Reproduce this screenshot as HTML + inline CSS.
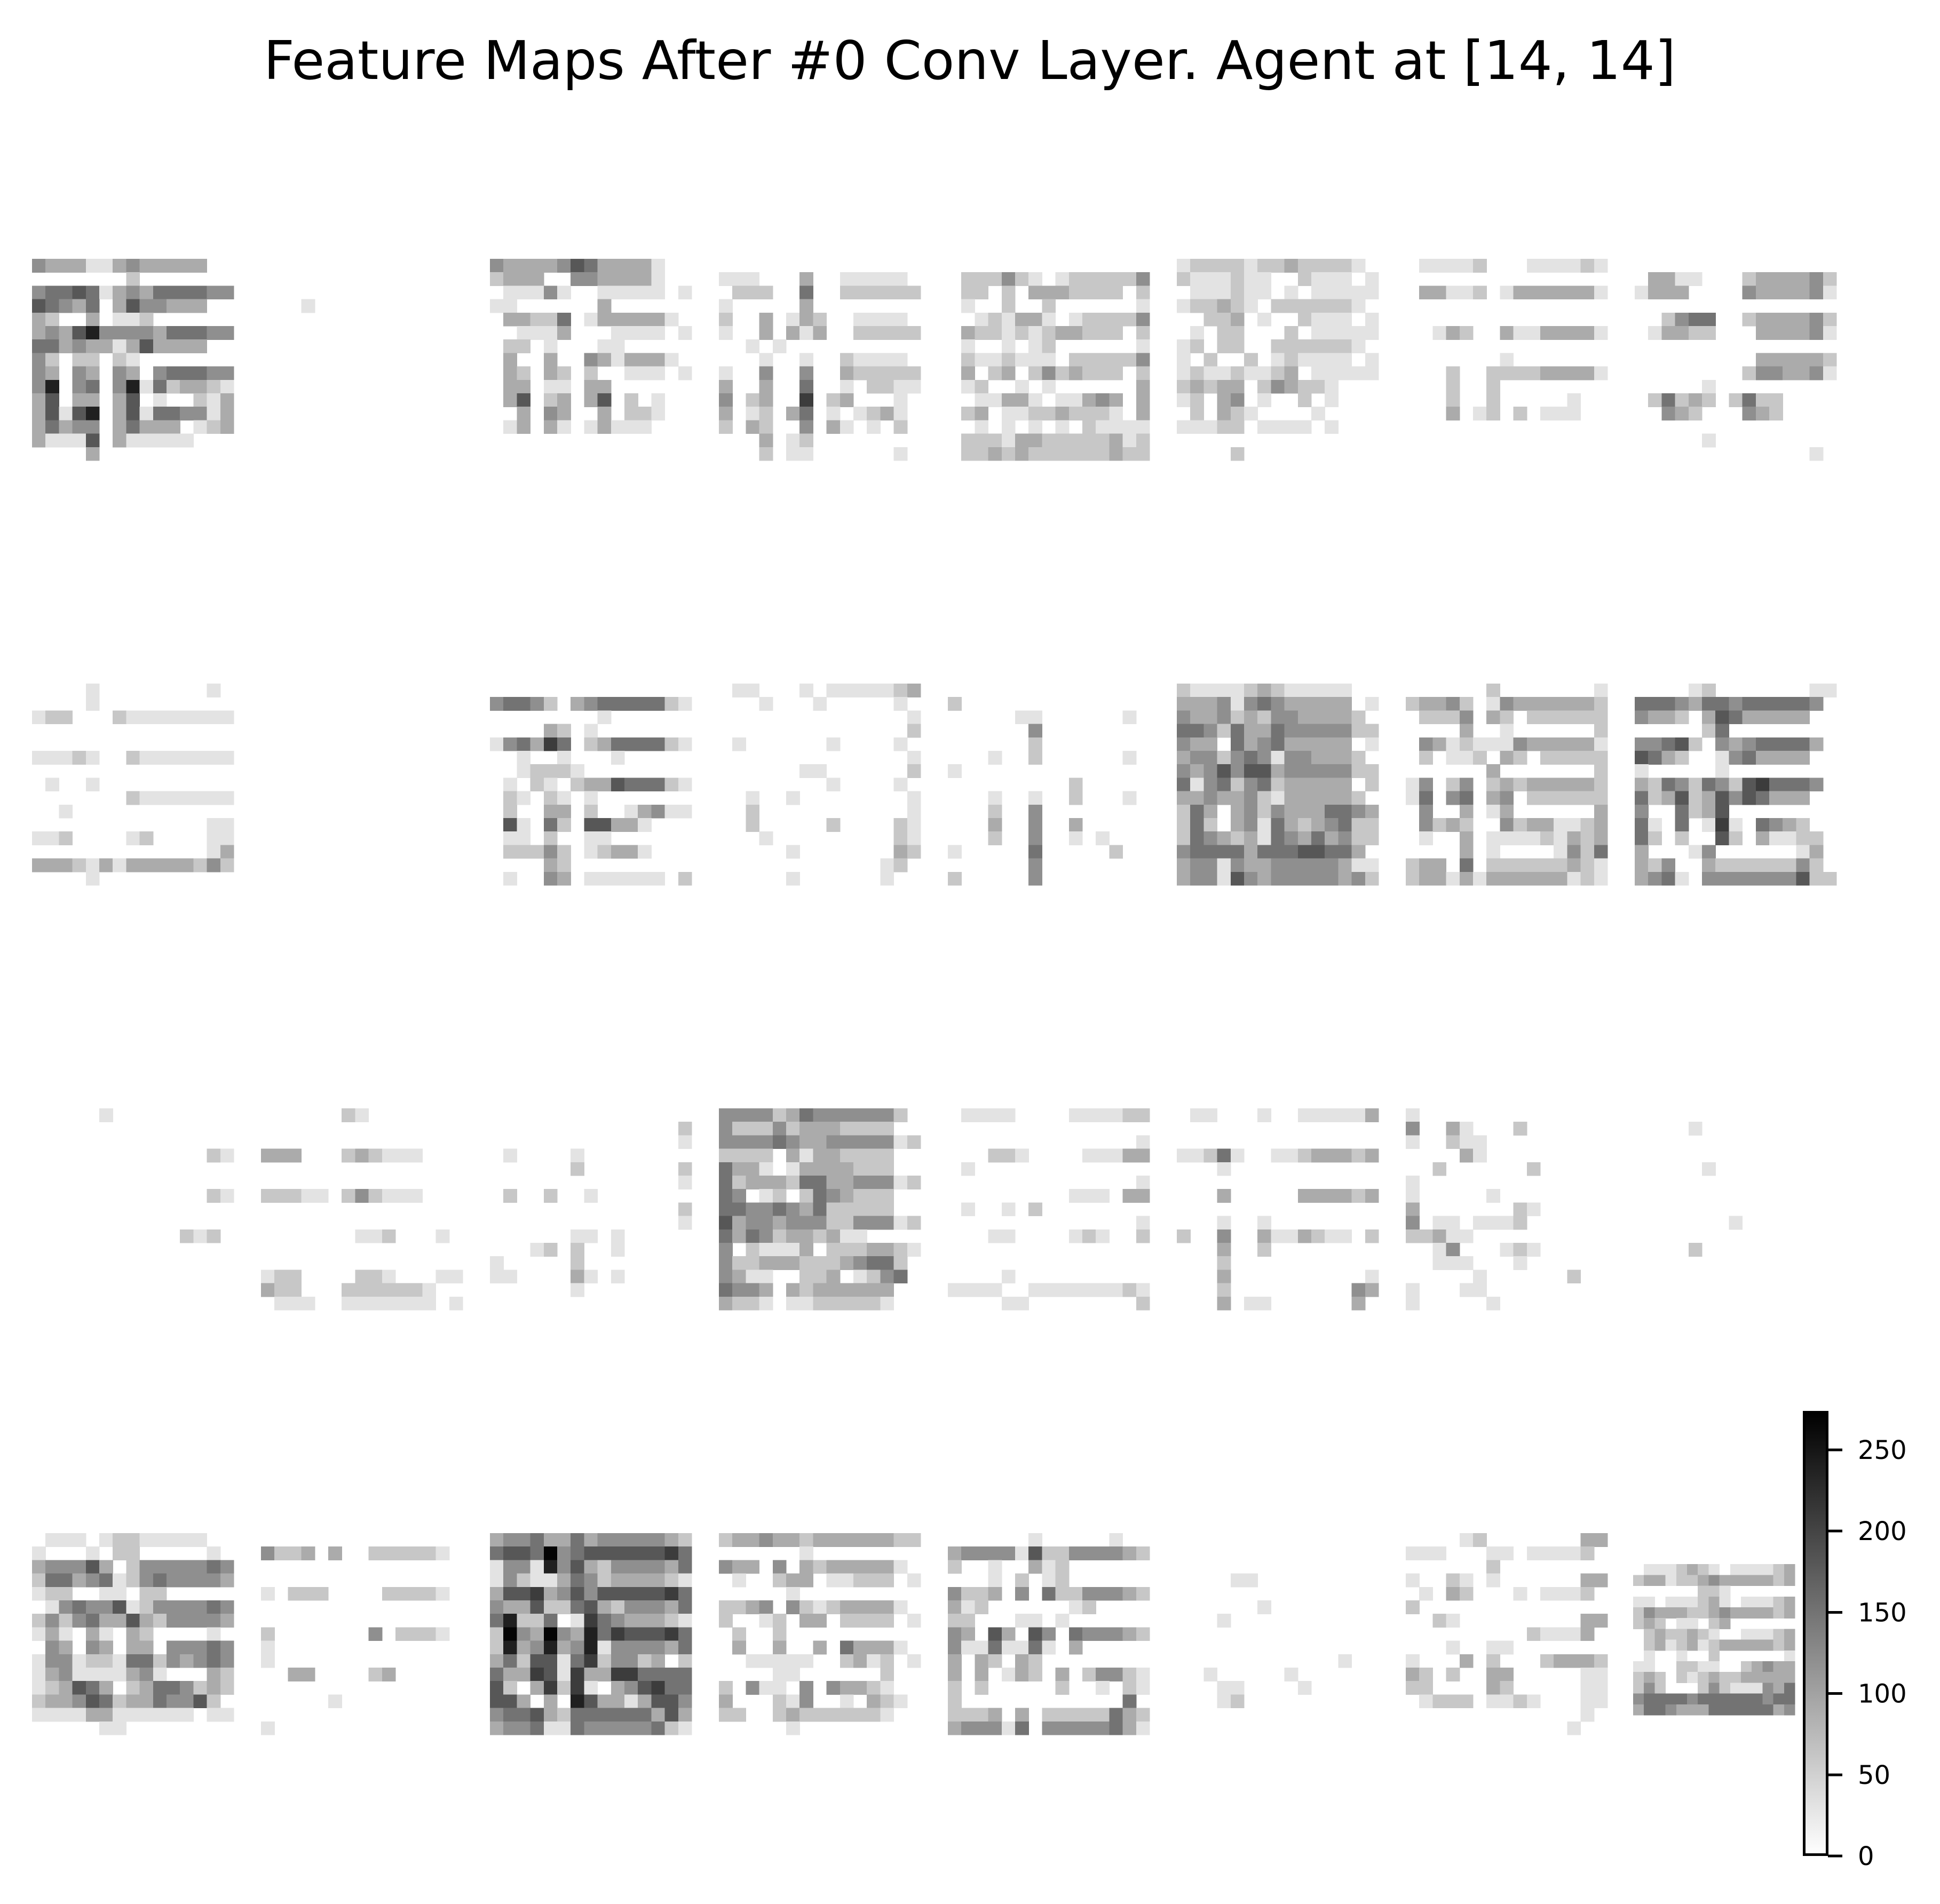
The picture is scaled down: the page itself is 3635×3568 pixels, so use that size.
<!DOCTYPE html>
<html>
<head>
<meta charset="utf-8">
<style>
  html, body { margin: 0; padding: 0; background: #ffffff; }
  svg { display: block; }
  text { font-family: "DejaVu Sans", "Liberation Sans", sans-serif; fill: #000; }
</style>
</head>
<body>
<svg id="chart" xmlns="http://www.w3.org/2000/svg" width="3635" height="3568" viewBox="0 0 3635 3568" shape-rendering="crispEdges">
  <rect x="0" y="0" width="3635" height="3568" fill="#ffffff"/>
  <text x="1817" y="148" font-size="100" text-anchor="middle" textLength="2646" lengthAdjust="spacingAndGlyphs" shape-rendering="auto">Feature Maps After #0 Conv Layer. Agent at [14, 14]</text>
  <g id="maps"></g>
  <defs>
    <linearGradient id="cbgrad" x1="0" y1="1" x2="0" y2="0">
      <stop offset="0" stop-color="#ffffff"/>
      <stop offset="1" stop-color="#000000"/>
    </linearGradient>
  </defs>
  <g id="colorbar">
    <rect x="3380.5" y="2646.5" width="43" height="829" fill="url(#cbgrad)" stroke="#000" stroke-width="5"/>
  </g>
</svg>
<script>
// Feature map values on a 0-9 intensity scale (value = digit * 30, colour scale 0..274)
const cbTicks = [0, 50, 100, 150, 200, 250];
const cbMax = 274;
const fm = [
["433311343333300","000000020000000","455651343555544","654350364433300","320030112000000","343684444355544","553433136333300","420220210000000","430430430455544","480450481523321","360330360100213","361680361554413","353440353330123","311160311111000","000030000000000"],
["000000000000000","000000000000000","000000000000000","000100000000000","000000000000000","000000000000000","000000000000000","000000000000000","000000000000000","000000000000000","000000000000000","000000000000000","000000000000000","000000000000000","000000000000000"],
["433334653333100","233300443333100","011141001111101","110000003000000","033225013333310","001113000111101","022010001100000","030030043133310","032032020011101","033011033000000","036023036020100","003043003022100","013031013111000","000000000000000","000000000000000"],
["000000000000000","111000300111110","022200500222222","100000300000000","200301320011110","100303130022222","001010000000000","000100100211110","100400400322222","300300500102211","402300702300010","301203501012310","203200403101020","000301200000000","000201100000010"],
["000000000000000","022242101222224","022020333222202","010020020000001","001213310122224","032212123322202","010010120000001","021121110222224","030230242322202","012001010000003","001133101134303","023011223222103","001010101021111","022213322222312","022323222222322"],
["122221223222210","211121100211101","011121101011111","122321022222210","002230100211101","010220002011111","120220022222210","102002012111101","121121123011111","232330243221000","120340100201000","020321000010000","111220111101000","000000000000000","000020000000000"],
["011112000111121","000000000000000","033112013333331","000000000000000","000000000000000","001320031133331","000000000000000","000000010000000","000200222233331","000200200000000","000200200000100","000301202011100","000000000000000","000000000000000","000000000000000"],
["000000000000000","033110002333342","133300004333341","000000000000000","002455002333342","013322000333341","000000000000000","000000000333332","000000002443341","000001000000000","025232025220000","004320004320000","000000000000000","000001000000000","000000000000010"],
["000010000000010","000010000000000","122000211111111","000000000000000","000000000000000","111210021111111","000000000000000","010010000000000","000000021111111","001000000000000","000000000000011","112000012000011","000000000000013","333213133333242","000010000000000"],
["000000000000000","000000000000000","000000000000000","000000000000000","000000000000000","000000000000000","000000000000000","000000000000000","000000000000000","000000000000000","000000000000000","000000000000000","000000000000000","000000000000000","000000000000000"],
["000000000000000","455420345555521","000000001000000","000032010000000","145375023555521","001001000100000","001222100000000","010210233655521","021021010000000","020033020013411","061052066331000","011020011000000","022242012331000","000032000000000","010043011111102"],
["011000101111123","000100010000010","000000000000001","000000000000002","010000001000010","000000000000001","000000110000002","000000001000010","001001000000001","002000000000001","002000002000021","000100000000021","000001000000032","000000000000120","000001000000100"],
["000000000000000","200000000000000","000001100000010","000000400000000","000000200000000","000100200000010","100000000000000","000000000200000","000100100200010","000200400000000","000300400300000","000200400101000","100000500000200","000000400000000","200000400000000"],
["211112321111100","333414543333301","433423244333320","554253354444422","433053453333301","344245414433320","434646634444422","514524523333302","334334213333320","253034243335543","252034153234522","254323154353422","455553555665530","344143344444311","344164344444342"],
["000000200000001","233420143333332","022240320222222","000030010000002","043121114333331","020112032022222","000000300000002","140240232333332","150450340222222","040030130000003","042320042331123","010030111121323","000030100001425","233050222222321","233131333333121"],
["000012000000011","555435545555540","433203653333300","000002500000000","445620434555530","653200145333300","100000100000000","325425426755540","523623646533300","400523600000000","510501710543200","520200620311220","300014000000130","324003222222420","345104444444622"],
["000001000000000","000000000000000","000000000000000","000000000000021","000000000000000","000000000000000","000000000000021","000000000000000","000000000000000","000000000002120","000000000000000","000000000000000","000000000000000","000000000000000","000000000000000"],
["000000210000000","000000000000000","000000000000000","333000232111000","000000000000000","000000000000000","222110242111000","000000000000000","000000000000000","000000011200010","000000000000000","000000000000000","122000022100011","322000222222100","011100111111101"],
["000000000000000","000000000000002","000000000000001","010000100000000","000000200000002","000000000000001","020020010000000","000000000000002","000000000000001","000000110100000","000120200100000","100000200000000","110000310100000","000000100000000","000000000000000"],
["444423544444420","422242333222200","444454334444412","222203133222200","533101333322200","523332553344412","540120254322200","554454352222200","634434442244412","535423323110000","402111302223321","422333222345520","431100223012450","544303233333300","322101122222100"],
["011110000111122","000000000000000","000000000000001","000221000011133","010000000000000","000000000000001","000000000111033","010010200000000","000000000000001","000110000121002","000000000000000","000000000000000","000010000000000","111100111111121","000011000000002"],
["011000100111113","000000000000000","000000000000000","112510011233323","000100000000000","000000000000000","000300000333323","000000000000000","000100100000000","200400311321102","000300200000000","000200000000000","000300000000001","000200000000043","000301100000030"],
["100000000000000","400310002000000","100211000000000","000031000000000","002000000200000","100000000000000","100000100000000","300000002100000","401101112000000","223110000000000","001400012100000","001110001000000","000001000000200","100011000000000","100000100000000"],
["000000000000000","000010000000000","000000000000000","000000000000000","000001000000000","000000000000000","000000000000000","000000000000000","000000010000000","000000000000000","000020000000000","000000000000000","000000000000000","000000000000000","000000000000000"],
["011101221111100","100010220000010","344463024444454","255345124544443","122001102200000","014544612444454","242453363244443","131031032000010","043043033044454","144122155243454","134111134100032","123653023554232","233465233544620","111133111111011","000001100000000"],
["000000000000000","422303002222210","000000000000000","000000000000000","102220000222210","000000000000000","000000000000000","200000004022210","100000000000000","100000000000000","003300002300000","000000000000000","000001000000000","000000000000000","100000000000000"],
["344533534444432","566594566666675","144184632444435","142113542333321","366734646666675","433622563244435","582250175433321","294394385766675","283483481444435","352661572442302","533761733775555","620372710346755","663030863313664","455632555555363","344511544444521"],
["233433233333322","000000100000000","433040323333310","010023301122201","000001000000000","223404212333310","200120330222201","020020000000000","030030030533310","001111100231201","000011000000200","204110404332100","300021400103210","220023222222100","000001000000000"],
["000000100000100","344441622444432","200100312000000","000102012000000","422304052244432","312000000120000","220001101000000","430630640544432","411511510300000","303203200000000","303013203024421","202000002001021","200000000000050","222303022222532","344415044444531"],
["000000000000000","000000000000000","000000000000000","000011000000000","000000000000000","000000100000000","000100000000000","000000000000000","000000000000000","000000000000100","001000001000000","000110000100000","000120000000000","000000000000000","000000000000000"],
["000012000000033","111000110111120","000000200000000","100210100000033","010320001011120","200000000000000","002100000000033","000000000211130","000100110000000","100030200023332","320200330000011","220000320000011","012220112100011","000000000000010","000000000000100"],
["000000000000000","011123210111123","233122343333323","000000221000000","110111231011123","243332234333323","232011023000000","023223210011123","023123123333323","010010020000001","110022110023433","232021232233333","242000242111435","455554555555455","355433355555534"]
];

const svgNS = "http://www.w3.org/2000/svg";
const svg = document.getElementById("chart");
const mapsG = document.getElementById("maps");
const colLeft = c => 60 + 429 * c;
const rowTops = [485, 1281, 2077, 2873];
function colorFor(v) {
  const g = Math.max(0, Math.min(255, Math.round(255 * (1 - v / cbMax))));
  return "rgb(" + g + "," + g + "," + g + ")";
}
fm.forEach((rows, idx) => {
  const c = idx % 8, r = Math.floor(idx / 8);
  let x0 = colLeft(c), y0 = rowTops[r], cs = 25.2;
  if (idx === 31) { x0 = 3060; y0 = 2911; cs = 20.2; }
  const g = document.createElementNS(svgNS, "g");
  
  
  rows.forEach((row, ri) => {
    for (let ci = 0; ci < row.length; ci++) {
      const v = parseInt(row[ci], 10) * 30;
      if (v === 0) continue;
      const rect = document.createElementNS(svgNS, "rect");
      rect.setAttribute("x", (x0 + ci * cs).toFixed(1));
      rect.setAttribute("y", (y0 + ri * cs).toFixed(1));
      rect.setAttribute("width", (cs + 0.6).toFixed(1));
      rect.setAttribute("height", (cs + 0.6).toFixed(1));
      rect.setAttribute("fill", colorFor(v));
      
      
      g.appendChild(rect);
    }
  });
  mapsG.appendChild(g);
});

// colorbar ticks
const cbG = document.getElementById("colorbar");
const cbTop = 2644, cbBottom = 3478;
const cbY = v => cbBottom - v * (cbBottom - cbTop) / cbMax;
cbTicks.forEach(t => {
  const y = cbY(t);
  const ln = document.createElementNS(svgNS, "line");
  ln.setAttribute("x1", 3425); ln.setAttribute("x2", 3452);
  ln.setAttribute("y1", y); ln.setAttribute("y2", y);
  ln.setAttribute("stroke", "#000"); ln.setAttribute("stroke-width", 5);
  
  
  cbG.appendChild(ln);
  const tx = document.createElementNS(svgNS, "text");
  tx.setAttribute("x", 3481); tx.setAttribute("y", y + 17);
  tx.setAttribute("font-size", 48);
  tx.setAttribute("shape-rendering", "auto");
  tx.textContent = String(t);
  
  
  cbG.appendChild(tx);
});
</script>
</body>
</html>
